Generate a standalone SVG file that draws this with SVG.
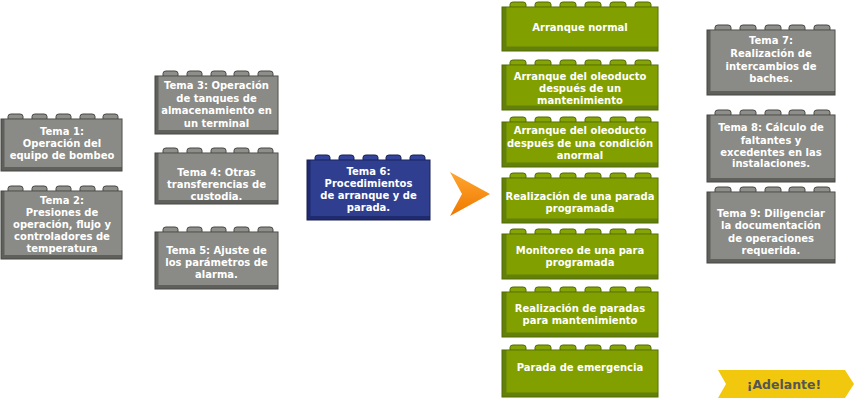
<svg xmlns="http://www.w3.org/2000/svg" xmlns:xlink="http://www.w3.org/1999/xlink" width="854" height="400" viewBox="0 0 854 400">
<style>
.t{font-family:"DejaVu Sans","Liberation Sans",sans-serif;font-weight:bold;font-size:10px;fill:#ffffff;text-anchor:middle}
.g-edge{fill:#5f5f5b;stroke:#464643;stroke-width:1}
.g-face{fill:#8a8a86}
.g-stud{fill:#8e8e8a;stroke:#464643;stroke-width:1}
.b-edge{fill:#1f2b6e;stroke:#172050;stroke-width:1}
.b-face{fill:#2f3e8f}
.b-stud{fill:#34449a;stroke:#172050;stroke-width:1}
.v-edge{fill:#62800a;stroke:#506a00;stroke-width:1}
.v-face{fill:#81a000}
.v-stud{fill:#86a504;stroke:#506a00;stroke-width:1}
.btn{font-family:"DejaVu Sans","Liberation Sans",sans-serif;font-weight:bold;font-size:12.5px;fill:#555555;text-anchor:middle}
</style>
<defs>
<path id="stud" d="M0,6 V2.5 Q0,0 3,0 H12 Q15,0 15,2.5 V6 Z"/>
<path id="studw" d="M0,6 V2.5 Q0,0 3,0 H13 Q16,0 16,2.5 V6 Z"/>
<linearGradient id="arrowGrad" x1="0" y1="0" x2="0" y2="1">
<stop offset="0" stop-color="#ffa630"/>
<stop offset="1" stop-color="#ee7800"/>
</linearGradient>
</defs>
<rect width="854" height="400" fill="#ffffff"/>

<g id="tema1">
<use href="#stud" x="8" y="114" class="g-stud"/><use href="#stud" x="32" y="114" class="g-stud"/><use href="#stud" x="56" y="114" class="g-stud"/><use href="#stud" x="80" y="114" class="g-stud"/><use href="#stud" x="103" y="114" class="g-stud"/>
<rect class="g-edge" x="1" y="119" width="121" height="52"/>
<rect class="g-face" x="4.5" y="119.5" width="117" height="47.5"/>
<text class="t"><tspan x="62" y="135">Tema 1:</tspan><tspan x="62" y="147">Operación del</tspan><tspan x="62" y="159">equipo de bombeo</tspan></text>
</g>

<g id="tema2">
<use href="#stud" x="8" y="186" class="g-stud"/><use href="#stud" x="32" y="186" class="g-stud"/><use href="#stud" x="56" y="186" class="g-stud"/><use href="#stud" x="80" y="186" class="g-stud"/><use href="#stud" x="103" y="186" class="g-stud"/>
<rect class="g-edge" x="1" y="191" width="121" height="68"/>
<rect class="g-face" x="4.5" y="191.5" width="117" height="63.5"/>
<text class="t"><tspan x="62" y="204">Tema 2:</tspan><tspan x="62" y="216">Presiones de</tspan><tspan x="62" y="228">operación, flujo y</tspan><tspan x="62" y="240">controladores de</tspan><tspan x="62" y="252">temperatura</tspan></text>
</g>

<g id="tema3">
<use href="#stud" x="163" y="71" class="g-stud"/><use href="#stud" x="187" y="71" class="g-stud"/><use href="#stud" x="211" y="71" class="g-stud"/><use href="#stud" x="234" y="71" class="g-stud"/><use href="#stud" x="258" y="71" class="g-stud"/>
<rect class="g-edge" x="155" y="76" width="123" height="58"/>
<rect class="g-face" x="158.5" y="76.5" width="119" height="53.5"/>
<text class="t"><tspan x="216.5" y="89">Tema 3: Operación</tspan><tspan x="216.5" y="101.5">de tanques de</tspan><tspan x="216.5" y="114">almacenamiento en</tspan><tspan x="216.5" y="126.5">un terminal</tspan></text>
</g>

<g id="tema4">
<use href="#stud" x="163" y="148" class="g-stud"/><use href="#stud" x="187" y="148" class="g-stud"/><use href="#stud" x="211" y="148" class="g-stud"/><use href="#stud" x="234" y="148" class="g-stud"/><use href="#stud" x="258" y="148" class="g-stud"/>
<rect class="g-edge" x="155" y="153" width="123" height="51"/>
<rect class="g-face" x="158.5" y="153.5" width="119" height="46.5"/>
<text class="t"><tspan x="216.5" y="176">Tema 4: Otras</tspan><tspan x="216.5" y="188">transferencias de</tspan><tspan x="216.5" y="200">custodia.</tspan></text>
</g>

<g id="tema5">
<use href="#stud" x="163" y="227" class="g-stud"/><use href="#stud" x="187" y="227" class="g-stud"/><use href="#stud" x="211" y="227" class="g-stud"/><use href="#stud" x="234" y="227" class="g-stud"/><use href="#stud" x="258" y="227" class="g-stud"/>
<rect class="g-edge" x="155" y="232" width="123" height="57"/>
<rect class="g-face" x="158.5" y="232.5" width="119" height="52.5"/>
<text class="t"><tspan x="216.5" y="254">Tema 5: Ajuste de</tspan><tspan x="216.5" y="266">los parámetros de</tspan><tspan x="216.5" y="278">alarma.</tspan></text>
</g>

<g id="tema6">
<use href="#stud" x="315" y="155" class="b-stud"/><use href="#stud" x="339" y="155" class="b-stud"/><use href="#stud" x="363" y="155" class="b-stud"/><use href="#stud" x="386" y="155" class="b-stud"/><use href="#stud" x="410" y="155" class="b-stud"/>
<rect class="b-edge" x="307" y="160" width="123" height="60"/>
<rect class="b-face" x="310.5" y="160.5" width="119" height="55.5"/>
<text class="t"><tspan x="368.5" y="175">Tema 6:</tspan><tspan x="368.5" y="187">Procedimientos</tspan><tspan x="368.5" y="199">de arranque y de</tspan><tspan x="368.5" y="211">parada.</tspan></text>
</g>

<g id="arrow">
<path d="M450,172 L490,194 L450,216 L462,194 Z" fill="url(#arrowGrad)"/>
</g>

<g id="paso1">
<use href="#studw" x="510" y="2" class="v-stud"/><use href="#studw" x="535" y="2" class="v-stud"/><use href="#studw" x="560" y="2" class="v-stud"/><use href="#studw" x="585" y="2" class="v-stud"/><use href="#studw" x="610" y="2" class="v-stud"/><use href="#studw" x="635" y="2" class="v-stud"/>
<rect class="v-edge" x="502" y="7" width="156" height="44"/>
<rect class="v-face" x="506.5" y="7.5" width="151" height="39"/>
<text class="t"><tspan x="580" y="31">Arranque normal</tspan></text>
</g>

<g id="paso2">
<use href="#studw" x="510" y="60" class="v-stud"/><use href="#studw" x="535" y="60" class="v-stud"/><use href="#studw" x="560" y="60" class="v-stud"/><use href="#studw" x="585" y="60" class="v-stud"/><use href="#studw" x="610" y="60" class="v-stud"/><use href="#studw" x="635" y="60" class="v-stud"/>
<rect class="v-edge" x="502" y="65" width="156" height="45"/>
<rect class="v-face" x="506.5" y="65.5" width="151" height="40"/>
<text class="t"><tspan x="580" y="80">Arranque del oleoducto</tspan><tspan x="580" y="92">después de un</tspan><tspan x="580" y="104">mantenimiento</tspan></text>
</g>

<g id="paso3">
<use href="#studw" x="510" y="117" class="v-stud"/><use href="#studw" x="535" y="117" class="v-stud"/><use href="#studw" x="560" y="117" class="v-stud"/><use href="#studw" x="585" y="117" class="v-stud"/><use href="#studw" x="610" y="117" class="v-stud"/><use href="#studw" x="635" y="117" class="v-stud"/>
<rect class="v-edge" x="502" y="122" width="156" height="45"/>
<rect class="v-face" x="506.5" y="122.5" width="151" height="40"/>
<text class="t"><tspan x="580" y="134">Arranque del oleoducto</tspan><tspan x="580" y="146.5">después de una condición</tspan><tspan x="580" y="159">anormal</tspan></text>
</g>

<g id="paso4">
<use href="#studw" x="510" y="173" class="v-stud"/><use href="#studw" x="535" y="173" class="v-stud"/><use href="#studw" x="560" y="173" class="v-stud"/><use href="#studw" x="585" y="173" class="v-stud"/><use href="#studw" x="610" y="173" class="v-stud"/><use href="#studw" x="635" y="173" class="v-stud"/>
<rect class="v-edge" x="502" y="178" width="156" height="45"/>
<rect class="v-face" x="506.5" y="178.5" width="151" height="40"/>
<text class="t"><tspan x="580" y="200">Realización de una parada</tspan><tspan x="580" y="212">programada</tspan></text>
</g>

<g id="paso5">
<use href="#studw" x="510" y="229" class="v-stud"/><use href="#studw" x="535" y="229" class="v-stud"/><use href="#studw" x="560" y="229" class="v-stud"/><use href="#studw" x="585" y="229" class="v-stud"/><use href="#studw" x="610" y="229" class="v-stud"/><use href="#studw" x="635" y="229" class="v-stud"/>
<rect class="v-edge" x="502" y="234" width="156" height="45"/>
<rect class="v-face" x="506.5" y="234.5" width="151" height="40"/>
<text class="t"><tspan x="580" y="254">Monitoreo de una para</tspan><tspan x="580" y="266">programada</tspan></text>
</g>

<g id="paso6">
<use href="#studw" x="510" y="287" class="v-stud"/><use href="#studw" x="535" y="287" class="v-stud"/><use href="#studw" x="560" y="287" class="v-stud"/><use href="#studw" x="585" y="287" class="v-stud"/><use href="#studw" x="610" y="287" class="v-stud"/><use href="#studw" x="635" y="287" class="v-stud"/>
<rect class="v-edge" x="502" y="292" width="156" height="45"/>
<rect class="v-face" x="506.5" y="292.5" width="151" height="40"/>
<text class="t"><tspan x="580" y="312">Realización de paradas</tspan><tspan x="580" y="324">para mantenimiento</tspan></text>
</g>

<g id="paso7">
<use href="#studw" x="510" y="345" class="v-stud"/><use href="#studw" x="535" y="345" class="v-stud"/><use href="#studw" x="560" y="345" class="v-stud"/><use href="#studw" x="585" y="345" class="v-stud"/><use href="#studw" x="610" y="345" class="v-stud"/><use href="#studw" x="635" y="345" class="v-stud"/>
<rect class="v-edge" x="502" y="350" width="156" height="47"/>
<rect class="v-face" x="506.5" y="350.5" width="151" height="42"/>
<text class="t"><tspan x="580" y="371">Parada de emergencia</tspan></text>
</g>

<g id="tema7">
<use href="#studw" x="715" y="25" class="g-stud"/><use href="#studw" x="740" y="25" class="g-stud"/><use href="#studw" x="765" y="25" class="g-stud"/><use href="#studw" x="789" y="25" class="g-stud"/><use href="#studw" x="814" y="25" class="g-stud"/>
<rect class="g-edge" x="707" y="30" width="128" height="65"/>
<rect class="g-face" x="710.5" y="30.5" width="124" height="60.5"/>
<text class="t"><tspan x="771" y="44">Tema 7:</tspan><tspan x="771" y="57">Realización de</tspan><tspan x="771" y="70">intercambios de</tspan><tspan x="771" y="82">baches.</tspan></text>
</g>

<g id="tema8">
<use href="#studw" x="715" y="110" class="g-stud"/><use href="#studw" x="740" y="110" class="g-stud"/><use href="#studw" x="765" y="110" class="g-stud"/><use href="#studw" x="789" y="110" class="g-stud"/><use href="#studw" x="814" y="110" class="g-stud"/>
<rect class="g-edge" x="707" y="115" width="128" height="67"/>
<rect class="g-face" x="710.5" y="115.5" width="124" height="62.5"/>
<text class="t"><tspan x="771" y="131">Tema 8: Cálculo de</tspan><tspan x="771" y="144">faltantes y</tspan><tspan x="771" y="156">excedentes en las</tspan><tspan x="771" y="167">instalaciones.</tspan></text>
</g>

<g id="tema9">
<use href="#studw" x="715" y="187" class="g-stud"/><use href="#studw" x="740" y="187" class="g-stud"/><use href="#studw" x="765" y="187" class="g-stud"/><use href="#studw" x="789" y="187" class="g-stud"/><use href="#studw" x="814" y="187" class="g-stud"/>
<rect class="g-edge" x="707" y="192" width="128" height="71"/>
<rect class="g-face" x="710.5" y="192.5" width="124" height="66.5"/>
<text class="t"><tspan x="771" y="217">Tema 9: Diligenciar</tspan><tspan x="771" y="229">la documentación</tspan><tspan x="771" y="242">de operaciones</tspan><tspan x="771" y="254">requerida.</tspan></text>
</g>

<g id="adelante">
<path d="M718,370 L845,370 L854,384 L845,398 L718,398 L726,384 Z" fill="#f2c80f"/>
<text class="btn" x="784" y="389">¡Adelante!</text>
</g>

<g id="connectors"></g>
</svg>
